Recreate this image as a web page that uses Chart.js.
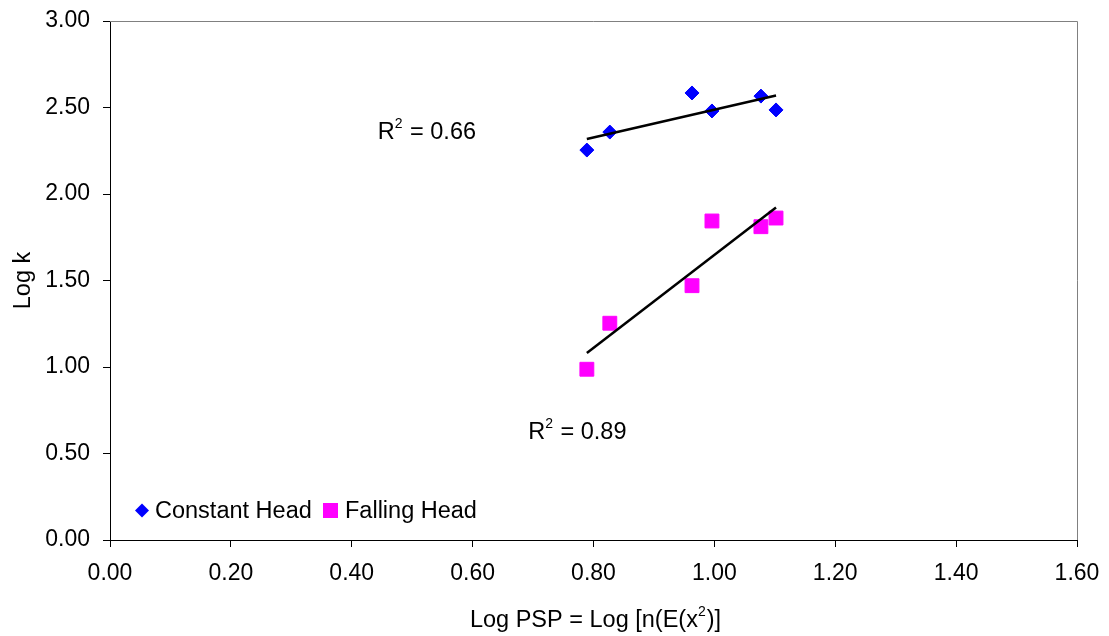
<!DOCTYPE html>
<html>
<head>
<meta charset="utf-8">
<script src="https://cdn.jsdelivr.net/npm/chart.js@4.4.0/dist/chart.umd.min.js"></script>
<style>
  html, body { margin: 0; padding: 0; background: #fff; }
  #wrap { width: 1109px; height: 636px; position: relative; }
</style>
</head>
<body>
<div id="wrap"><canvas id="chart"></canvas></div>
<script>
// ── Data ──────────────────────────────────────────────────────────────────────
const logPsp        = [0.789, 0.827, 0.963, 0.996, 1.077, 1.102];
const logKConstant  = [2.254, 2.358, 2.584, 2.480, 2.566, 2.486];
const logKFalling   = [0.987, 1.253, 1.470, 1.844, 1.811, 1.861];
const seriesNames   = ['Constant Head', 'Falling Head'];
const r2Values      = ['0.66', '0.89'];
const xTickValues   = [0, 0.2, 0.4, 0.6, 0.8, 1.0, 1.2, 1.4, 1.6];
const yTickValues   = [0, 0.5, 1.0, 1.5, 2.0, 2.5, 3.0];

// ── Style ─────────────────────────────────────────────────────────────────────
const FONT   = '"Liberation Sans", Arial, sans-serif';
const BLUE   = '#0000ff';
const PINK   = '#ff00ff';
const TEXT   = 23.5;   // px, titles / labels
const SUP    = 14;     // px, superscript

// least-squares fit, returned as the two end points over the x range
function linearFit(xs, ys) {
  const n = xs.length;
  const mx = xs.reduce((a, b) => a + b, 0) / n;
  const my = ys.reduce((a, b) => a + b, 0) / n;
  let sxy = 0, sxx = 0;
  xs.forEach((x, i) => { sxy += (x - mx) * (ys[i] - my); sxx += (x - mx) ** 2; });
  const slope = sxy / sxx;
  const x0 = Math.min(...xs), x1 = Math.max(...xs);
  return [
    { x: x0, y: my + slope * (x0 - mx) },
    { x: x1, y: my + slope * (x1 - mx) },
  ];
}

const toPoints = (xs, ys) => xs.map((x, i) => ({ x, y: ys[i] }));

// ── Text with a superscript piece: parts = [[text, isSup], ...] ─────────────
function supWidth(ctx, parts) {
  let w = 0;
  parts.forEach(([t, sup]) => {
    ctx.font = `${sup ? SUP : TEXT}px ${FONT}`;
    w += ctx.measureText(t).width;
  });
  return w;
}
function drawSup(ctx, parts, x, y, rise) {
  ctx.textBaseline = 'alphabetic';
  ctx.textAlign = 'left';
  parts.forEach(([t, sup]) => {
    ctx.font = `${sup ? SUP : TEXT}px ${FONT}`;
    ctx.fillText(t, x, sup ? y - rise : y);
    x += ctx.measureText(t).width + (sup ? 1 : 0);
  });
}

// ── Overlay: frame, R² labels, titles, legend ─────────────────────────────────
const overlay = {
  id: 'overlay',
  afterDraw(chart) {
    const { ctx, chartArea: a, scales: { x, y } } = chart;
    ctx.save();

    // grey frame on top and right
    ctx.strokeStyle = '#808080';
    ctx.lineWidth = 1;
    ctx.beginPath();
    ctx.moveTo(a.left, Math.round(a.top) + 0.5);
    ctx.lineTo(Math.round(a.right) + 0.5, Math.round(a.top) + 0.5);
    ctx.lineTo(Math.round(a.right) + 0.5, a.bottom);
    ctx.stroke();

    ctx.fillStyle = '#000';

    // R² annotations
    const r2Pos = [{ x: 0.443, y: 2.316 }, { x: 0.692, y: 0.583 }];
    r2Values.forEach((v, i) => {
      drawSup(ctx, [['R', false], ['2', true], [' = ' + v, false]],
        x.getPixelForValue(r2Pos[i].x), y.getPixelForValue(r2Pos[i].y), 11);
    });

    // x title
    const xParts = [['Log PSP = Log [n(E(x', false], ['2', true], [')]', false]];
    const xw = supWidth(ctx, xParts) + 1;
    drawSup(ctx, xParts, (a.left + a.right) / 2 - xw / 2 + 2, 627, 11);

    // y title
    ctx.save();
    ctx.translate(30, (a.top + a.bottom) / 2);
    ctx.rotate(-Math.PI / 2);
    ctx.font = `${TEXT}px ${FONT}`;
    ctx.textAlign = 'center';
    ctx.textBaseline = 'alphabetic';
    ctx.fillText('Log k', 0, 0);
    ctx.restore();

    // legend
    const ly = 510.5;
    ctx.font = `${TEXT}px ${FONT}`;
    ctx.textBaseline = 'middle';
    ctx.textAlign = 'left';
    ctx.fillStyle = BLUE;
    ctx.beginPath();
    ctx.moveTo(142, ly - 7); ctx.lineTo(149, ly); ctx.lineTo(142, ly + 7); ctx.lineTo(135, ly);
    ctx.closePath(); ctx.fill();
    ctx.fillStyle = '#000';
    ctx.fillText(seriesNames[0], 155, ly + 1);
    ctx.fillStyle = PINK;
    ctx.fillRect(323, ly - 7.5, 15, 15);
    ctx.fillStyle = '#000';
    ctx.fillText(seriesNames[1], 345, ly + 1);

    ctx.restore();
  },
};

// ── Chart ─────────────────────────────────────────────────────────────────────
const axisGrid = {
  drawOnChartArea: false,
  drawTicks: true,
  tickLength: 7,
  color: '#000',
  lineWidth: 1,
};

new Chart(document.getElementById('chart'), {
  type: 'scatter',
  data: {
    datasets: [
      {
        label: seriesNames[0],
        data: toPoints(logPsp, logKConstant),
        pointStyle: 'rectRot',
        pointRadius: 7,
        pointHoverRadius: 7,
        backgroundColor: BLUE,
        borderColor: BLUE,
        borderWidth: 1,
        order: 1,
      },
      {
        label: seriesNames[1],
        data: toPoints(logPsp, logKFalling),
        pointStyle: 'rect',
        pointRadius: 9.8,
        pointHoverRadius: 9.8,
        backgroundColor: PINK,
        borderColor: PINK,
        borderWidth: 1,
        order: 1,
      },
      {
        type: 'line',
        label: 'fit constant',
        data: linearFit(logPsp, logKConstant),
        borderColor: '#000',
        borderWidth: 2.5,
        pointRadius: 0,
        fill: false,
        order: 0,
      },
      {
        type: 'line',
        label: 'fit falling',
        data: linearFit(logPsp, logKFalling),
        borderColor: '#000',
        borderWidth: 2.5,
        pointRadius: 0,
        fill: false,
        order: 0,
      },
    ],
  },
  options: {
    responsive: true,
    maintainAspectRatio: false,
    animation: false,
    events: [],
    layout: { padding: { top: 21, right: 32, left: 0, bottom: 0 } },
    plugins: { legend: { display: false }, tooltip: { enabled: false } },
    scales: {
      x: {
        type: 'linear',
        min: 0, max: 1.6,
        afterBuildTicks: s => { s.ticks = xTickValues.map(v => ({ value: v })); },
        afterFit: s => { s.height = 96; s.paddingLeft = 0; s.paddingRight = 0; },
        ticks: {
          color: '#000',
          padding: 13,
          font: { family: FONT, size: 23 },
          callback: v => Number(v).toFixed(2),
        },
        grid: axisGrid,
        border: { color: '#000', width: 1 },
      },
      y: {
        type: 'linear',
        min: 0, max: 3,
        afterBuildTicks: s => { s.ticks = yTickValues.map(v => ({ value: v })); },
        afterFit: s => { s.width = 110; s.paddingTop = 0; s.paddingBottom = 0; },
        ticks: {
          color: '#000',
          padding: 13,
          font: { family: FONT, size: 23 },
          callback: v => Number(v).toFixed(2),
        },
        grid: axisGrid,
        border: { color: '#000', width: 1 },
      },
    },
  },
  plugins: [overlay],
});
</script>
</body>
</html>
